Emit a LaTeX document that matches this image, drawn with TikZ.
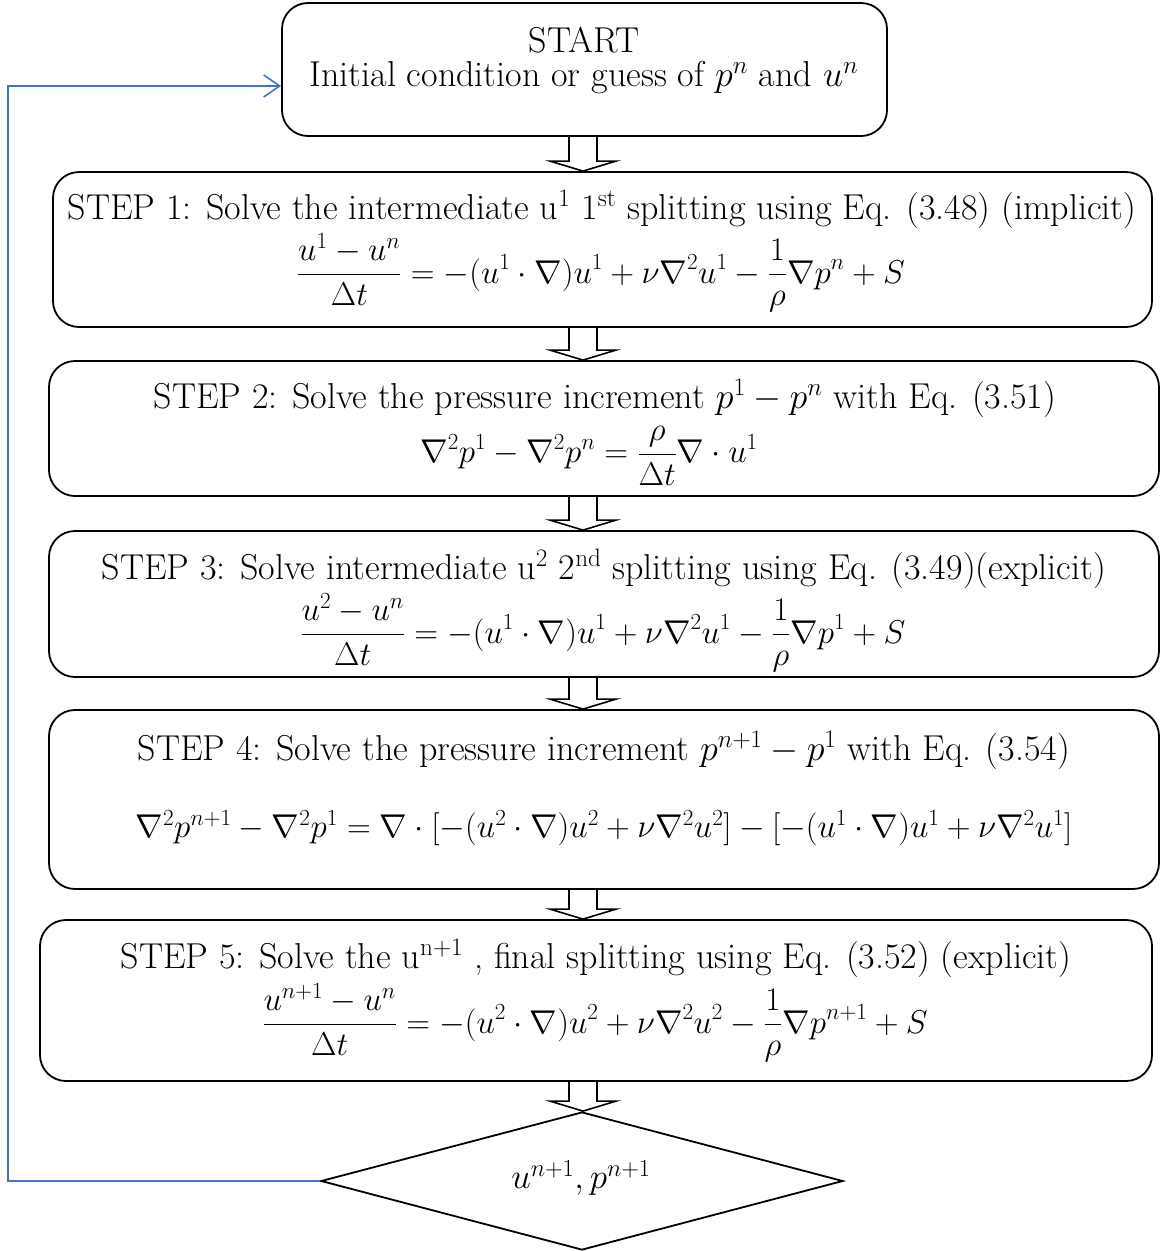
\RequirePackage{fix-cm}
\documentclass[tikz,border=0pt]{standalone}
\usepackage{amsmath}
\usetikzlibrary{shapes.geometric,arrows.meta,calc}
\definecolor{fbblue}{RGB}{68,114,196}
\begin{document}
\begin{tikzpicture}[x=1pt,y=-1pt,
  box/.style={draw=black, line width=1.8pt, rounded corners=26pt, inner sep=0pt},
  txt/.style={font=\fontsize{36}{42}\selectfont, inner sep=0pt},
  eqn/.style={font=\fontsize{33}{39}\selectfont, inner sep=0pt},
  barrow/.style={draw=black, line width=1.6pt, line join=miter},
  fb/.style={draw=fbblue, line width=1.8pt, -{Straight Barb[length=16pt,width=22pt,line width=1.6pt]}},
  dia/.style={draw=black, line width=1.8pt, shape=diamond, inner sep=0pt}
]
\useasboundingbox (0,0) rectangle (1163,1251);
\coordinate (ax) at (583,0);
\coordinate (lx) at (8,0);

% boxes
\node[box, minimum width=605pt, minimum height=133pt] (s) at (584.5,69.5) {};
\node[box, minimum width=1099pt, minimum height=155pt] (b1) at (602.5,249.5) {};
\node[box, minimum width=1110pt, minimum height=135pt] (b2) at (604,428.5) {};
\node[box, minimum width=1110pt, minimum height=146pt] (b3) at (604,604) {};
\node[box, minimum width=1110pt, minimum height=179pt] (b4) at (604,799.5) {};
\node[box, minimum width=1112pt, minimum height=161pt] (b5) at (596,1000.5) {};
\node[dia, minimum width=522pt, minimum height=138pt] (d) at (582,1181) {};

% texts
\node[txt] (s1) at (584,40) {START};
\node[txt] (s2) at (584,78) {Initial condition or guess of $p^n$ and $u^n$};

\node[txt] (t1) at (602,209) {STEP 1: Solve the intermediate u\textsuperscript{1} 1\textsuperscript{st} splitting using Eq. (3.48) (implicit)};
\node[eqn] (e1) at (601,273) {$\displaystyle \frac{u^1-u^n}{\Delta t}=-(u^1\cdot\nabla)u^1+\nu\nabla^2u^1-\frac{1}{\rho}\nabla p^n+S$};

\node[txt] (t2) at (605,398) {STEP 2: Solve the pressure increment $p^1-p^n$ with Eq. (3.51)};
\node[eqn] (e2) at (589,456) {$\displaystyle \nabla^2p^1-\nabla^2p^n=\frac{\rho}{\Delta t}\nabla\cdot u^1$};

\node[txt] (t3) at (604,569) {STEP 3: Solve intermediate u\textsuperscript{2} 2\textsuperscript{nd} splitting using Eq. (3.49)(explicit)};
\node[eqn] (e3) at (603,633) {$\displaystyle \frac{u^2-u^n}{\Delta t}=-(u^1\cdot\nabla)u^1+\nu\nabla^2u^1-\frac{1}{\rho}\nabla p^1+S$};

\node[txt] (t4) at (604,750) {STEP 4: Solve the pressure increment $p^{n+1}-p^1$ with Eq. (3.54)};
\node[eqn] (e4) at (604,828) {$\nabla^2p^{n+1}-\nabla^2p^1=\nabla\cdot[-(u^2\cdot\nabla)u^2+\nu\nabla^2u^2]-[-(u^1\cdot\nabla)u^1+\nu\nabla^2u^1]$};

\node[txt] (t5) at (596,958) {STEP 5: Solve the u\textsuperscript{n+1} , final splitting using Eq. (3.52) (explicit)};
\node[eqn] (e5) at (595,1023) {$\displaystyle \frac{u^{n+1}-u^n}{\Delta t}=-(u^2\cdot\nabla)u^2+\nu\nabla^2u^2-\frac{1}{\rho}\nabla p^{n+1}+S$};

\node[eqn, font=\fontsize{35}{41}\selectfont] (dt) at (581,1178) {$u^{n+1},p^{n+1}$};

% block arrows
\newcommand{\blockarrow}[2]{%
  \draw[barrow] ($(#1.south -| ax)+(-14,0)$) -- ($(#2.north -| ax)+(-14,-10)$)
    -- ($(#2.north -| ax)+(-33,-10)$) -- (#2.north -| ax)
    -- ($(#2.north -| ax)+(33,-10)$) -- ($(#2.north -| ax)+(14,-10)$)
    -- ($(#1.south -| ax)+(14,0)$);}
\blockarrow{s}{b1}
\blockarrow{b1}{b2}
\blockarrow{b2}{b3}
\blockarrow{b3}{b4}
\blockarrow{b4}{b5}
\blockarrow{b5}{d}

% feedback
\draw[fb] (d.west) -| ($(lx |- s.west)+(0,16.5)$) -- ($(s.west)+(0,16.5)$);
\end{tikzpicture}
\end{document}
